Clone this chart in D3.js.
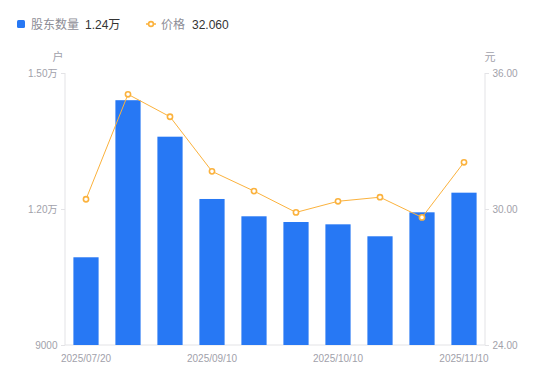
<!DOCTYPE html>
<html>
<head>
<meta charset="utf-8">
<script src="https://cdn.jsdelivr.net/npm/d3@7"></script>
<style>
  body { margin: 0; background: #fff; }
  svg { display: block; font-family: "Liberation Sans", "Noto Sans CJK SC", sans-serif; }
</style>
</head>
<body>
<svg id="chart" width="550" height="381"></svg>
<script>
// dados
const dates = ["2025/07/20", "2025/07/31", "2025/08/20", "2025/09/10", "2025/09/20",
               "2025/09/30", "2025/10/10", "2025/10/20", "2025/10/31", "2025/11/10"];
const holders = [10935, 14400, 13595, 12221, 11839, 11713, 11662, 11398, 11927, 12360];
const prices = [30.43, 35.06, 34.07, 31.66, 30.79, 29.85, 30.34, 30.52, 29.63, 32.06];
const leftTicks = [9000, 12000, 15000];
const rightTicks = [24, 30, 36];
const shownDates = ["2025/07/20", "2025/09/10", "2025/10/10", "2025/11/10"];

const svg = d3.select("#chart");
const margin = { top: 73, right: 65, bottom: 36, left: 65 };
const width = 550 - margin.left - margin.right;
const height = 381 - margin.top - margin.bottom;

const barColor = "#2778f4";
const lineColor = "#fbb23d";
const axisColor = "#e3e3e6";
const labelColor = "#a1a1aa";

const g = svg.append("g").attr("transform", `translate(${margin.left},${margin.top})`);

const x = d3.scaleBand().domain(dates).range([0, width]).paddingInner(0.4).paddingOuter(0.2);
const yL = d3.scaleLinear().domain([9000, 15000]).range([height, 0]);
const yR = d3.scaleLinear().domain([24, 36]).range([height, 0]);

function fmtLeft(v) {
    return v >= 10000 ? (v / 10000).toFixed(2) + "万" : String(v);
}

// eixo esquerdo
const axL = g.append("g").call(d3.axisLeft(yL).tickValues(leftTicks).tickFormat(fmtLeft).tickSize(4).tickPadding(3.5));
// eixo direito
const axR = g.append("g").attr("transform", `translate(${width},0)`)
    .call(d3.axisRight(yR).tickValues(rightTicks).tickFormat(d => d.toFixed(2)).tickSize(4).tickPadding(3.5));
// eixo x
const axX = g.append("g").attr("transform", `translate(0,${height})`)
    .call(d3.axisBottom(x).tickValues(shownDates).tickSize(0).tickPadding(9.5));

[axL, axR, axX].forEach(a => {
    a.selectAll("path.domain").attr("stroke", axisColor);
    a.selectAll(".tick line").attr("stroke", axisColor);
    a.selectAll("text").attr("fill", labelColor).attr("font-size", 10)
        .attr("font-family", "'Liberation Sans', 'Noto Sans CJK SC', sans-serif");
});
axL.select("path.domain").attr("d", `M0,0V${height}`);
axR.select("path.domain").attr("d", `M0,0V${height}`);
axX.select("path.domain").attr("d", `M0,0H${width}`);

// barras
g.selectAll("rect.bar").data(holders).enter().append("rect")
    .attr("class", "bar")
    .attr("x", (d, i) => x(dates[i]))
    .attr("y", d => yL(d))
    .attr("width", x.bandwidth())
    .attr("height", d => height - yL(d))
    .attr("fill", barColor);

// linha de preço
const line = d3.line().x((d, i) => x(dates[i]) + x.bandwidth() / 2).y(d => yR(d));
g.append("path").datum(prices)
    .attr("d", line).attr("fill", "none").attr("stroke", lineColor).attr("stroke-width", 1);
g.selectAll("circle.pt").data(prices).enter().append("circle")
    .attr("class", "pt")
    .attr("cx", (d, i) => x(dates[i]) + x.bandwidth() / 2)
    .attr("cy", d => yR(d))
    .attr("r", 2.6)
    .attr("fill", "#fff")
    .attr("stroke", lineColor)
    .attr("stroke-width", 1.6);

// unidades
svg.append("text").attr("x", 58).attr("y", 61).attr("text-anchor", "middle")
    .attr("font-size", 11).attr("fill", labelColor).text("户");
svg.append("text").attr("x", 490).attr("y", 61).attr("text-anchor", "middle")
    .attr("font-size", 11).attr("fill", labelColor).text("元");

// legenda
const lg = svg.append("g").attr("font-size", 12);
lg.append("rect").attr("x", 17).attr("y", 20).attr("width", 8).attr("height", 8).attr("rx", 1.5).attr("fill", barColor);
lg.append("text").attr("x", 31).attr("y", 28.5).attr("fill", "#8d8d96").text("股东数量");
lg.append("text").attr("x", 85).attr("y", 28.5).attr("fill", "#333").text("1.24万");

lg.append("line").attr("x1", 146).attr("x2", 156).attr("y1", 24).attr("y2", 24).attr("stroke", lineColor).attr("stroke-width", 1.5);
lg.append("circle").attr("cx", 151).attr("cy", 24).attr("r", 2.4).attr("fill", "#fff").attr("stroke", lineColor).attr("stroke-width", 1.6);
lg.append("text").attr("x", 161).attr("y", 28.5).attr("fill", "#8d8d96").text("价格");
lg.append("text").attr("x", 192).attr("y", 28.5).attr("fill", "#333").text("32.060");
</script>
</body>
</html>
